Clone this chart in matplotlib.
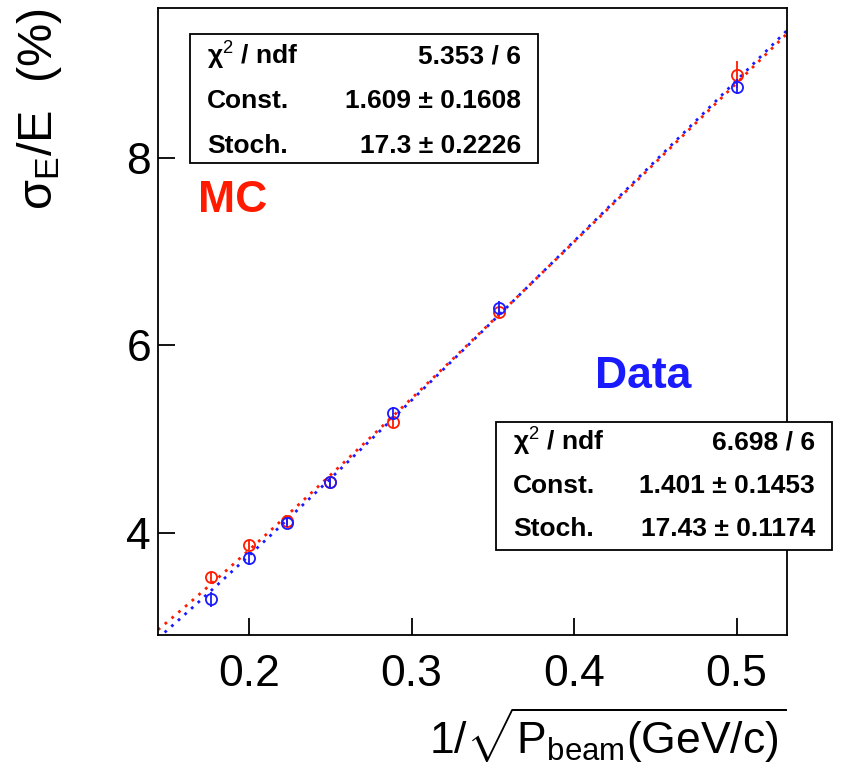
import numpy as np
import matplotlib
matplotlib.use("Agg")
import matplotlib.pyplot as plt
from matplotlib.patches import Rectangle

plt.rcParams['font.family'] = ['Liberation Sans', 'DejaVu Sans']
plt.rcParams['mathtext.fontset'] = 'custom'
plt.rcParams['mathtext.rm'] = 'Liberation Sans'
plt.rcParams['mathtext.it'] = 'Liberation Sans:italic'
plt.rcParams['mathtext.bf'] = 'Liberation Sans:bold'

# beam momenta (GeV/c) -> x = 1/sqrt(P)
p_beam = [32, 25, 20, 16, 12, 8, 4]
mc_res = [3.53, 3.87, 4.13, 4.54, 5.18, 6.36, 8.89]
mc_err = [0.05, 0.05, 0.05, 0.05, 0.05, 0.06, 0.14]
data_res = [3.29, 3.73, 4.11, 4.54, 5.28, 6.40, 8.76]
data_err = [0.08, 0.07, 0.05, 0.05, 0.06, 0.07, 0.08]

# fit results: sigma/E = Const (+) Stoch/sqrt(P)
mc_fit = {'chi2': '5.353 / 6', 'const': 1.609, 'const_err': 0.1608, 'stoch': 17.3, 'stoch_err': 0.2226}
data_fit = {'chi2': '6.698 / 6', 'const': 1.401, 'const_err': 0.1453, 'stoch': 17.43, 'stoch_err': 0.1174}

red = '#ff1a00'
blue = '#1a1aff'

x = 1.0 / np.sqrt(np.array(p_beam))

W, H = 854, 769
fig = plt.figure(figsize=(W / 100, H / 100), dpi=100)
ax = fig.add_axes([158 / W, 1 - 635 / H, (787 - 158) / W, (635 - 8) / H])
xlim = (0.144, 0.531)
ylim = (2.91, 9.6)

xf = np.linspace(xlim[0], xlim[1], 200)
for fit, col in [(mc_fit, red), (data_fit, blue)]:
    yf = np.sqrt(fit['const'] ** 2 + (fit['stoch'] * xf) ** 2)
    ax.plot(xf, yf, color=col, lw=2, ls=(0, (1, 2.2)), zorder=2)

ax.errorbar(x, mc_res, yerr=mc_err, fmt='o', mfc='none', mec=red, ecolor=red,
            ms=8, mew=1.3, elinewidth=1.3, capsize=0, zorder=3)
ax.errorbar(x, data_res, yerr=data_err, fmt='o', mfc='none', mec=blue, ecolor=blue,
            ms=8, mew=1.3, elinewidth=1.3, capsize=0, zorder=4)

ax.set_xlim(*xlim)
ax.set_ylim(*ylim)
ax.set_xticks([0.2, 0.3, 0.4, 0.5])
ax.set_xticklabels(['0.2', '0.3', '0.4', '0.5'])
ax.set_yticks([4, 6, 8])
ax.tick_params(direction='in', length=12, width=1.3, labelsize=32)
ax.tick_params(axis='x', pad=14)
ax.tick_params(axis='y', pad=5)
for s in ax.spines.values():
    s.set_linewidth(1.3)

fig.text(787 / W, 1 - 735 / H, r'$1/\sqrt{\mathrm{P_{beam}(GeV/c)}}$', fontsize=32,
         ha='right', va='center')
fig.text(40 / W, 1 - 8 / H, r'σ$_{\mathrm{E}}$/E  (%)', fontsize=35,
         rotation=90, ha='center', va='top')

fig.text(198 / W, 1 - 200 / H, 'MC', fontsize=32, fontweight='bold', color=red,
         ha='left', va='center')
fig.text(595 / W, 1 - 377 / H, 'Data', fontsize=32, fontweight='bold', color=blue,
         ha='left', va='center')


def stat_box(fit, x0, y0, x1, y1, rows_y):
    fig.add_artist(Rectangle((x0 / W, 1 - y1 / H), (x1 - x0) / W, (y1 - y0) / H,
                             transform=fig.transFigure, fill=True, fc='white',
                             ec='black', lw=1.3, zorder=5))
    labels = [r'χ$^2$ / ndf', 'Const.', 'Stoch.']
    values = [fit['chi2'],
              f"{fit['const']:g} ± {fit['const_err']:g}",
              f"{fit['stoch']:g} ± {fit['stoch_err']:g}"]
    for lab, val, ry in zip(labels, values, rows_y):
        fig.text((x0 + 17) / W, 1 - ry / H, lab, fontsize=19, fontweight='bold',
                 ha='left', va='center', zorder=6)
        fig.text((x1 - 17) / W, 1 - ry / H, val, fontsize=19, fontweight='bold',
                 ha='right', va='center', zorder=6)


stat_box(mc_fit, 190, 34, 538, 163, [56, 101, 146])
stat_box(data_fit, 496, 422, 832, 550, [442, 486, 529])

fig.savefig('out.png', dpi=100)
